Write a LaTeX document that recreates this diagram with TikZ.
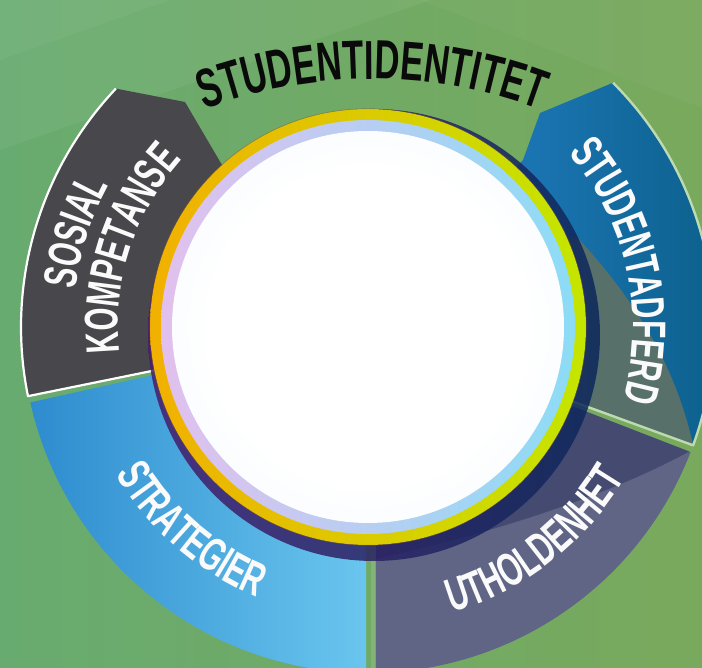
\documentclass[tikz,border=0pt]{standalone}
\usepackage{fontspec}
\usetikzlibrary{decorations.text}
\newfontfamily\bebas[FakeStretch=0.63]{Liberation Sans}
\newcommand\titlefmt{\bebas\bfseries\fontsize{55}{55}\selectfont\color{titleblack}}
\newcommand\labfmt{\bebas\bfseries\fontsize{47}{47}\selectfont\color{labwhite}}
\definecolor{bgL}{RGB}{104,171,112}
\definecolor{bgR}{RGB}{121,169,92}
\definecolor{sosial}{RGB}{72,71,76}
\definecolor{stratL}{RGB}{46,140,207}
\definecolor{stratR}{RGB}{106,198,238}
\definecolor{uthold}{RGB}{96,101,134}
\definecolor{utholdDark}{RGB}{68,74,112}
\definecolor{stadL}{RGB}{30,121,186}
\definecolor{stadR}{RGB}{10,94,136}
\definecolor{stadGray}{RGB}{88,112,106}
\definecolor{borderL}{RGB}{190,218,176}
\definecolor{shadL}{RGB}{72,28,108}
\definecolor{shadR}{RGB}{12,40,92}
\definecolor{ringL}{RGB}{242,176,0}
\definecolor{ringM}{RGB}{228,210,0}
\definecolor{ringR}{RGB}{196,230,0}
\definecolor{lilac}{RGB}{226,192,238}
\definecolor{cyanb}{RGB}{140,220,246}
\definecolor{diskmid}{RGB}{236,244,250}
\definecolor{diskedge}{RGB}{204,226,242}
\definecolor{titleblack}{RGB}{10,10,10}
\definecolor{labwhite}{RGB}{250,250,250}
\pgfdeclareradialshading{diskglow}{\pgfpoint{0bp}{0bp}}{color(0bp)=(white); color(20bp)=(white); color(42bp)=(diskmid); color(50bp)=(diskedge)}
\begin{document}
\begin{tikzpicture}[x=1pt,y=1pt,
  arclabel/.style={decorate, decoration={text along path, text align=center, text={#1}}}]
\useasboundingbox (0,0) rectangle (702,668);
\clip (0,0) rectangle (702,668);
% background
\shade[left color=bgL, right color=bgR] (0,0) rectangle (702,668);
\fill[white, opacity=0.05] (0,518) -- (430,668) -- (0,668) -- cycle;
\fill[white, opacity=0.04] (0,608) -- (170,668) -- (0,668) -- cycle;
\fill[white, opacity=0.03] (420,668) -- (702,560) -- (702,668) -- cycle;
\begin{scope}[shift={(368,341)}]
  % Sosial kompetanse
  \fill[sosial] (191.5:200) -- (191.5:347) arc[start angle=191.5, end angle=136.6, radius=347]
     -- (-183,225) -- (-146,162) -- (-110,120) -- cycle;
  \draw[white, line width=2.2, line join=round] (191.5:214) -- (191.5:347)
     arc[start angle=191.5, end angle=136.6, radius=347];
  % Strategier
  \begin{scope}
    \clip (-400,-400) rectangle (-2,0);
    \shade[left color=stratL, right color=stratR] (192.6:200) -- (192.6:346)
       arc[start angle=192.6, end angle=270, radius=346] -- (270:200) -- cycle;
  \end{scope}
  % Utholdenhet
  \begin{scope}
    \clip (8,-400) rectangle (400,0);
    \fill[uthold] (270:200) -- (270:346) arc[start angle=270, end angle=338.8, radius=346]
       -- (338.8:200) -- cycle;
    \clip (270:200) -- (270:346) arc[start angle=270, end angle=338.8, radius=346]
       -- (338.8:200) -- cycle;
    \fill[utholdDark] (8,-232) .. controls (102,-211) and (227,-176) .. (324,-123)
       -- (360,0) -- (8,0) -- cycle;
  \end{scope}
  \fill[white, opacity=0.12] (3,-360) rectangle (7,-225);
  % Studentadferd
  \shade[left color=stadL, right color=stadR] (-20:200) -- (-20:346)
     arc[start angle=-20, end angle=44.9, radius=346] -- (172,214) -- (155,167) -- (120,130) -- cycle;
  \begin{scope}
    \clip (-20:200) -- (-20:346) arc[start angle=-20, end angle=44.9, radius=346]
       -- (172,214) -- (155,167) -- (120,130) -- cycle;
    \fill[stadGray] (209,90) .. controls (262,32) and (307,-33) .. (326,-122)
       -- (330,-200) -- (150,-200) -- (150,90) -- cycle;
  \end{scope}
  \draw[borderL, line width=2.4, line join=round] (-20:216) -- (-20:346)
     arc[start angle=-20, end angle=44.9, radius=346];
  % shadow behind the ring
  \shade[left color=shadL, right color=shadR, opacity=0.85] (6,-8) circle[radius=226];
  % ring and disk
  \shade[left color=ringL, middle color=ringM, right color=ringR] (0,0) circle[radius=218];
  \draw[brown!70!black, opacity=0.5, line width=0.6] (0,0) circle[radius=218.3];
  \shade[left color=lilac, right color=cyanb] (0,0) circle[radius=207];
  \shade[shading=diskglow] (0,0) circle[radius=196];
  % labels
  \path[arclabel={|\labfmt|STRATEGIER}] (185:292) arc[start angle=185, end angle=273, radius=292];
  \path[arclabel={|\labfmt|UTHOLDENHET}] (-97:298) arc[start angle=-97, end angle=-7, radius=298];
  \path[arclabel={|\labfmt|STUDENTADFERD}] (60:265) arc[start angle=60, end angle=-35, radius=265];
  \path[arclabel={|\labfmt|SOSIAL}] (210:295) arc[start angle=210, end angle=114, radius=295];
  \path[arclabel={|\labfmt|KOMPETANSE}] (210:250) arc[start angle=210, end angle=114, radius=250];
  % title
  \begin{scope}[shift={(4,-232)}]
    \path[arclabel={|\titlefmt|STUDENTIDENTITET}] (120:480) arc[start angle=120, end angle=60, radius=480];
  \end{scope}
\end{scope}
\end{tikzpicture}
\end{document}
